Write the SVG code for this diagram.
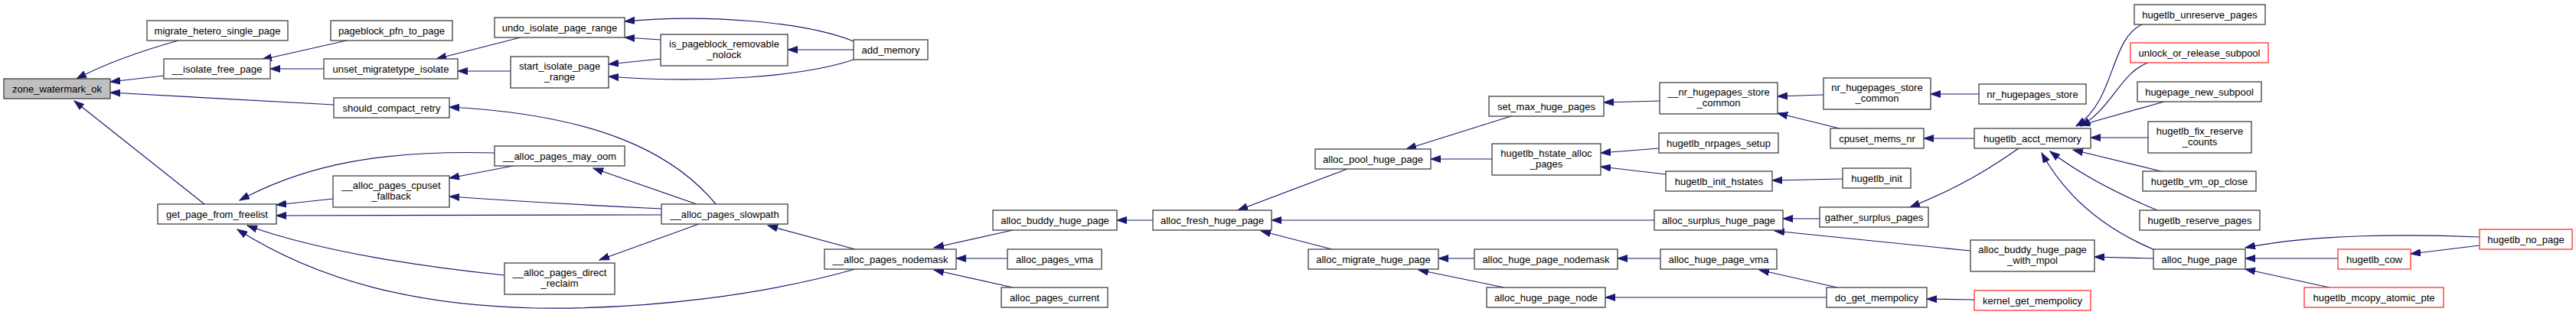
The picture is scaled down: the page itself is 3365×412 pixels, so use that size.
<svg xmlns="http://www.w3.org/2000/svg" width="3365" height="412" viewBox="0 0 3365 412">
<defs>
<marker id="ah" markerUnits="userSpaceOnUse" markerWidth="14" markerHeight="10" viewBox="0 0 14 10" refX="13" refY="5" orient="auto">
<path d="M0,0.5 L13,5 L0,9.5 z" fill="#191970" stroke="#191970" stroke-width="1"/>
</marker>
<style>
.n rect{fill:#fff;stroke:#404040;stroke-width:1.3}
.n.r rect{stroke:#ff3030}
.n.m rect{fill:#bfbfbf}
.n text{font-family:"Liberation Sans",Arial,sans-serif;font-size:13px;fill:#000;text-anchor:middle}
#edges path{fill:none;stroke:#191970;stroke-width:1.2;marker-end:url(#ah)}
</style>
</defs>
<rect width="3365" height="412" fill="#fff"/>
<g id="edges">
<path d="M233,53 C190,65 140,82 100,103"/>
<path d="M214,99 L144,107"/>
<path d="M436,137 C350,132 250,126 144,121"/>
<path d="M267,267 L97,132"/>
<path d="M453,53 L342,78"/>
<path d="M423,90 L353,90"/>
<path d="M680,49 L570,77"/>
<path d="M667,93 L598,93"/>
<path d="M863,52 L816,49"/>
<path d="M1115,54 C1050,28 920,18 816,28"/>
<path d="M1115,78 C1050,100 920,110 795,100"/>
<path d="M863,77 L795,84"/>
<path d="M1115,65 L1029,65"/>
<path d="M935,267 C880,200 780,150 587,140"/>
<path d="M910,267 L775,220"/>
<path d="M864,273 C800,270 700,265 587,257"/>
<path d="M864,281 L361,282"/>
<path d="M913,293 L783,340"/>
<path d="M646,200 C500,196 400,215 313,262"/>
<path d="M670,217 L587,233"/>
<path d="M435,260 L361,268"/>
<path d="M659,360 C560,350 420,330 323,295"/>
<path d="M1117,352 C1000,385 850,405 700,403 C550,400 420,370 310,300"/>
<path d="M1117,326 L1003,295"/>
<path d="M1323,301 L1220,324"/>
<path d="M1316,338 L1249,338"/>
<path d="M1323,376 L1220,353"/>
<path d="M1506,288 L1459,288"/>
<path d="M1760,221 L1617,275"/>
<path d="M2161,288 L1661,288"/>
<path d="M1740,326 L1647,302"/>
<path d="M1977,151 L1837,195"/>
<path d="M1949,208 L1869,208"/>
<path d="M1926,338 L1879,338"/>
<path d="M1965,376 L1853,353"/>
<path d="M2168,132 L2095,134"/>
<path d="M2167,194 L2091,200"/>
<path d="M2176,228 L2091,218"/>
<path d="M2169,338 L2113,338"/>
<path d="M2386,389 L2097,389"/>
<path d="M2382,124 L2322,126"/>
<path d="M2403,168 L2322,148"/>
<path d="M2407,234 L2315,236"/>
<path d="M2377,286 L2329,286"/>
<path d="M2574,328 L2318,302"/>
<path d="M2400,376 L2298,353"/>
<path d="M2585,123 L2522,123"/>
<path d="M2579,181 L2513,181"/>
<path d="M2637,194 C2600,220 2560,245 2495,271"/>
<path d="M2579,392 L2517,391"/>
<path d="M2800,31 C2755,50 2765,130 2712,165"/>
<path d="M2806,82 C2770,95 2760,140 2718,165"/>
<path d="M2827,133 L2717,164"/>
<path d="M2806,180 L2731,180"/>
<path d="M2823,224 L2708,196"/>
<path d="M2818,275 C2770,255 2720,230 2678,198"/>
<path d="M2815,327 C2750,300 2700,260 2667,200"/>
<path d="M2813,338 L2736,336"/>
<path d="M3239,310 C3150,306 3020,306 2933,324"/>
<path d="M3054,338 L2933,338"/>
<path d="M3043,376 L2933,352"/>
<path d="M3239,321 L3149,332"/>
</g>
<g id="zone_watermark_ok" class="n m"><rect x="5" y="103" width="139" height="26"/><text x="74.5" y="120.5">zone_watermark_ok</text></g>
<g id="migrate_hetero_single_page" class="n"><rect x="192" y="27" width="184" height="26"/><text x="284" y="44.5">migrate_hetero_single_page</text></g>
<g id="__isolate_free_page" class="n"><rect x="214" y="77" width="139" height="26"/><text x="283.5" y="94.5">__isolate_free_page</text></g>
<g id="get_page_from_freelist" class="n"><rect x="206" y="267" width="155" height="26"/><text x="283.5" y="284.5">get_page_from_freelist</text></g>
<g id="pageblock_pfn_to_page" class="n"><rect x="432" y="27" width="159" height="26"/><text x="511.5" y="44.5">pageblock_pfn_to_page</text></g>
<g id="unset_migratetype_isolate" class="n"><rect x="423" y="77" width="175" height="26"/><text x="510.5" y="94.5">unset_migratetype_isolate</text></g>
<g id="should_compact_retry" class="n"><rect x="436" y="128" width="151" height="26"/><text x="511.5" y="145.5">should_compact_retry</text></g>
<g id="__alloc_pages_cpuset_fallback" class="n"><rect x="435" y="230" width="152" height="41"/><text x="511" y="247">__alloc_pages_cpuset</text><text x="511" y="261">_fallback</text></g>
<g id="undo_isolate_page_range" class="n"><rect x="646" y="23" width="170" height="26"/><text x="731" y="40.5">undo_isolate_page_range</text></g>
<g id="start_isolate_page_range" class="n"><rect x="667" y="74" width="128" height="41"/><text x="731" y="91">start_isolate_page</text><text x="731" y="105">_range</text></g>
<g id="__alloc_pages_may_oom" class="n"><rect x="646" y="191" width="170" height="26"/><text x="731" y="208.5">__alloc_pages_may_oom</text></g>
<g id="__alloc_pages_direct_reclaim" class="n"><rect x="659" y="344" width="144" height="41"/><text x="731" y="361">__alloc_pages_direct</text><text x="731" y="375">_reclaim</text></g>
<g id="is_pageblock_removable_nolock" class="n"><rect x="863" y="45" width="166" height="41"/><text x="946" y="62">is_pageblock_removable</text><text x="946" y="76">_nolock</text></g>
<g id="add_memory" class="n"><rect x="1115" y="52" width="97" height="26"/><text x="1163.5" y="69.5">add_memory</text></g>
<g id="__alloc_pages_slowpath" class="n"><rect x="864" y="267" width="165" height="26"/><text x="946.5" y="284.5">__alloc_pages_slowpath</text></g>
<g id="__alloc_pages_nodemask" class="n"><rect x="1077" y="326" width="172" height="26"/><text x="1163" y="343.5">__alloc_pages_nodemask</text></g>
<g id="alloc_buddy_huge_page" class="n"><rect x="1297" y="275" width="162" height="26"/><text x="1378" y="292.5">alloc_buddy_huge_page</text></g>
<g id="alloc_pages_vma" class="n"><rect x="1316" y="326" width="123" height="26"/><text x="1377.5" y="343.5">alloc_pages_vma</text></g>
<g id="alloc_pages_current" class="n"><rect x="1308" y="376" width="139" height="26"/><text x="1377.5" y="393.5">alloc_pages_current</text></g>
<g id="alloc_fresh_huge_page" class="n"><rect x="1506" y="275" width="155" height="26"/><text x="1583.5" y="292.5">alloc_fresh_huge_page</text></g>
<g id="alloc_pool_huge_page" class="n"><rect x="1718" y="195" width="151" height="26"/><text x="1793.5" y="212.5">alloc_pool_huge_page</text></g>
<g id="alloc_migrate_huge_page" class="n"><rect x="1709" y="326" width="170" height="26"/><text x="1794" y="343.5">alloc_migrate_huge_page</text></g>
<g id="set_max_huge_pages" class="n"><rect x="1945" y="126" width="150" height="26"/><text x="2020" y="143.5">set_max_huge_pages</text></g>
<g id="hugetlb_hstate_alloc_pages" class="n"><rect x="1949" y="188" width="142" height="41"/><text x="2020" y="205">hugetlb_hstate_alloc</text><text x="2020" y="219">_pages</text></g>
<g id="alloc_huge_page_nodemask" class="n"><rect x="1926" y="326" width="187" height="26"/><text x="2019.5" y="343.5">alloc_huge_page_nodemask</text></g>
<g id="alloc_huge_page_node" class="n"><rect x="1942" y="376" width="155" height="26"/><text x="2019.5" y="393.5">alloc_huge_page_node</text></g>
<g id="__nr_hugepages_store_common" class="n"><rect x="2168" y="108" width="154" height="41"/><text x="2245" y="125">__nr_hugepages_store</text><text x="2245" y="139">_common</text></g>
<g id="hugetlb_nrpages_setup" class="n"><rect x="2167" y="174" width="156" height="26"/><text x="2245" y="191.5">hugetlb_nrpages_setup</text></g>
<g id="hugetlb_init_hstates" class="n"><rect x="2176" y="224" width="139" height="26"/><text x="2245.5" y="241.5">hugetlb_init_hstates</text></g>
<g id="alloc_surplus_huge_page" class="n"><rect x="2161" y="275" width="168" height="26"/><text x="2245" y="292.5">alloc_surplus_huge_page</text></g>
<g id="alloc_huge_page_vma" class="n"><rect x="2169" y="326" width="152" height="26"/><text x="2245" y="343.5">alloc_huge_page_vma</text></g>
<g id="nr_hugepages_store_common" class="n"><rect x="2382" y="102" width="140" height="41"/><text x="2452" y="119">nr_hugepages_store</text><text x="2452" y="133">_common</text></g>
<g id="cpuset_mems_nr" class="n"><rect x="2391" y="168" width="122" height="26"/><text x="2452" y="185.5">cpuset_mems_nr</text></g>
<g id="hugetlb_init" class="n"><rect x="2407" y="220" width="89" height="26"/><text x="2451.5" y="237.5">hugetlb_init</text></g>
<g id="gather_surplus_pages" class="n"><rect x="2377" y="271" width="142" height="26"/><text x="2448" y="288.5">gather_surplus_pages</text></g>
<g id="do_get_mempolicy" class="n"><rect x="2386" y="376" width="131" height="26"/><text x="2451.5" y="393.5">do_get_mempolicy</text></g>
<g id="nr_hugepages_store" class="n"><rect x="2585" y="110" width="140" height="26"/><text x="2655" y="127.5">nr_hugepages_store</text></g>
<g id="hugetlb_acct_memory" class="n"><rect x="2579" y="168" width="152" height="26"/><text x="2655" y="185.5">hugetlb_acct_memory</text></g>
<g id="alloc_buddy_huge_page_with_mpol" class="n"><rect x="2574" y="314" width="162" height="41"/><text x="2655" y="331">alloc_buddy_huge_page</text><text x="2655" y="345">_with_mpol</text></g>
<g id="kernel_get_mempolicy" class="n r"><rect x="2579" y="380" width="152" height="26"/><text x="2655" y="397.5">kernel_get_mempolicy</text></g>
<g id="hugetlb_unreserve_pages" class="n"><rect x="2788" y="6" width="171" height="26"/><text x="2873.5" y="23.5">hugetlb_unreserve_pages</text></g>
<g id="unlock_or_release_subpool" class="n r"><rect x="2783" y="56" width="180" height="26"/><text x="2873" y="73.5">unlock_or_release_subpool</text></g>
<g id="hugepage_new_subpool" class="n"><rect x="2792" y="107" width="162" height="26"/><text x="2873" y="124.5">hugepage_new_subpool</text></g>
<g id="hugetlb_fix_reserve_counts" class="n"><rect x="2806" y="159" width="135" height="41"/><text x="2873.5" y="176">hugetlb_fix_reserve</text><text x="2873.5" y="190">_counts</text></g>
<g id="hugetlb_vm_op_close" class="n"><rect x="2799" y="224" width="148" height="26"/><text x="2873" y="241.5">hugetlb_vm_op_close</text></g>
<g id="hugetlb_reserve_pages" class="n"><rect x="2795" y="275" width="157" height="26"/><text x="2873.5" y="292.5">hugetlb_reserve_pages</text></g>
<g id="alloc_huge_page" class="n"><rect x="2813" y="326" width="120" height="26"/><text x="2873" y="343.5">alloc_huge_page</text></g>
<g id="hugetlb_cow" class="n r"><rect x="3054" y="326" width="95" height="26"/><text x="3101.5" y="343.5">hugetlb_cow</text></g>
<g id="hugetlb_mcopy_atomic_pte" class="n r"><rect x="3010" y="376" width="182" height="26"/><text x="3101" y="393.5">hugetlb_mcopy_atomic_pte</text></g>
<g id="hugetlb_no_page" class="n r"><rect x="3239" y="300" width="121" height="26"/><text x="3299.5" y="317.5">hugetlb_no_page</text></g>
</svg>
